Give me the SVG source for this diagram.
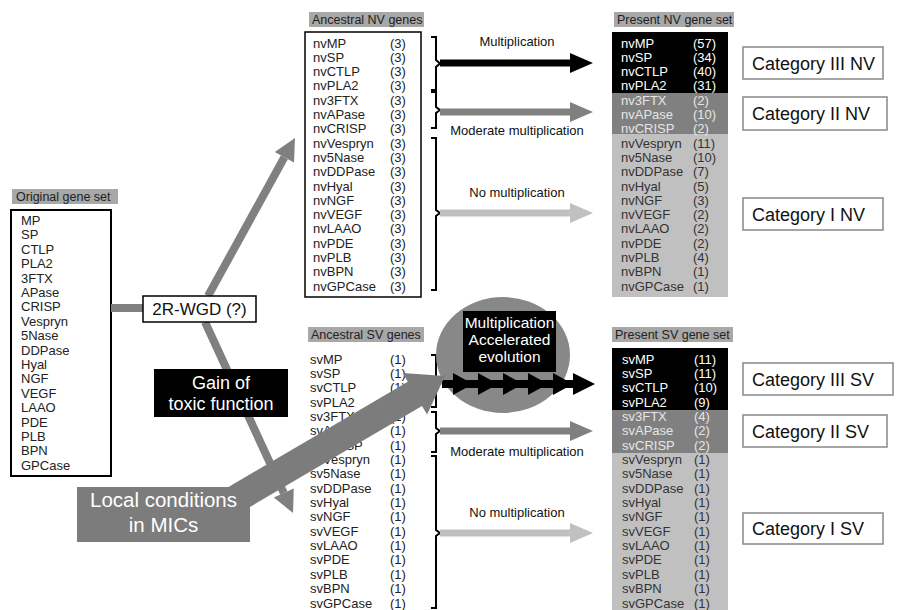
<svg xmlns="http://www.w3.org/2000/svg" width="897" height="610" viewBox="0 0 897 610">
<style>
text{font-family:"Liberation Sans",Arial,sans-serif}
.g{font-size:13px;fill:#222}
.w{font-size:13px;fill:#fff}
.lw{font-size:13px;fill:#e6e6e6}
.d{font-size:13px;fill:#333}
.lbl{font-size:12.5px;fill:#222}
.lblbg{fill:#a8a8a8}
.arrl{font-size:13px;fill:#111;text-anchor:middle}
.cat{font-size:18px;fill:#111}
.catbox{fill:#fff;stroke:#888;stroke-width:1.5}
.br{fill:none;stroke:#000;stroke-width:2}
</style>

<g id="original">
<rect class="lblbg" x="12" y="189" width="106" height="15"/>
<text class="lbl" x="16" y="201">Original gene set</text>
<rect x="11" y="210" width="100" height="266" fill="#fff" stroke="#000" stroke-width="2"/>
<g class="g">
<text x="21" y="225">MP</text><text x="21" y="239.4">SP</text><text x="21" y="253.8">CTLP</text><text x="21" y="268.2">PLA2</text><text x="21" y="282.6">3FTX</text><text x="21" y="297">APase</text><text x="21" y="311.4">CRISP</text><text x="21" y="325.8">Vespryn</text><text x="21" y="340.2">5Nase</text><text x="21" y="354.6">DDPase</text><text x="21" y="369">Hyal</text><text x="21" y="383.4">NGF</text><text x="21" y="397.8">VEGF</text><text x="21" y="412.2">LAAO</text><text x="21" y="426.6">PDE</text><text x="21" y="441">PLB</text><text x="21" y="455.4">BPN</text><text x="21" y="469.8">GPCase</text>
</g>
</g>

<g id="connectors">
<line x1="111" y1="308" x2="145" y2="308" stroke="#808080" stroke-width="8"/>
<line x1="208" y1="296" x2="284.4" y2="157.3" stroke="#808080" stroke-width="8"/>
<polygon points="295,138 294,162.6 274.8,152" fill="#808080"/>
<line x1="205" y1="322" x2="283.8" y2="493" stroke="#808080" stroke-width="8"/>
<polygon points="293,513 293.8,488.4 273.8,497.6" fill="#808080"/>
<!-- NV brackets -->
<path class="br" d="M431 37 L436 37 L436 60 L440 63.5 L436 67 L436 90 L431 90"/>
<path class="br" d="M431 92 L436 92 L436 107 L440 110 L436 113 L436 128 L431 128"/>
<path class="br" d="M431 138 L436 138 L436 210 L440 213 L436 216 L436 290 L431 290"/>
<!-- NV arrows -->
<polygon points="440,59.5 570,59.5 570,53 593,63 570,73 570,66.5 440,66.5" fill="#000"/>
<polygon points="440,108.5 570,108.5 570,102 593,112 570,122 570,115.5 440,115.5" fill="#808080"/>
<polygon points="440,209.5 570,209.5 570,203 593,213 570,223 570,216.5 440,216.5" fill="#c0c0c0"/>
<!-- SV brackets -->
<path class="br" d="M431 355 L436 355 L436 381 L440 384 L436 387 L436 407 L431 407"/>
<path class="br" d="M431 412 L436 412 L436 428 L440 431 L436 434 L436 452 L431 452"/>
<path class="br" d="M431 456 L436 456 L436 530 L440 533 L436 536 L436 608 L431 608"/>
<!-- SV arrows -->
<polygon points="440,427.5 570,427.5 570,421 593,431 570,441 570,434.5 440,434.5" fill="#808080"/>
<polygon points="440,529.5 570,529.5 570,523 593,533 570,543 570,536.5 440,536.5" fill="#c0c0c0"/>
</g>

<g id="arrow-labels">
<text class="arrl" x="517" y="46">Multiplication</text>
<text class="arrl" x="517" y="135">Moderate multiplication</text>
<text class="arrl" x="517" y="197">No multiplication</text>
<text class="arrl" x="517" y="456">Moderate multiplication</text>
<text class="arrl" x="517" y="517">No multiplication</text>
</g>

<g id="wgd">
<rect x="143" y="296" width="113" height="26" fill="#fff" stroke="#000" stroke-width="1.5"/>
<text x="199.5" y="315" font-size="17" fill="#111" text-anchor="middle">2R-WGD (?)</text>
</g>

<g id="gain">
<rect x="154" y="369" width="134" height="48" fill="#000"/>
<text x="221" y="389" font-size="18" fill="#fff" text-anchor="middle">Gain of</text>
<text x="221" y="410" font-size="18" fill="#fff" text-anchor="middle">toxic function</text>
</g>

<g id="ancestral-nv">
<rect class="lblbg" x="309" y="12" width="115" height="15"/>
<text class="lbl" x="312" y="24">Ancestral NV genes</text>
<rect x="305" y="32" width="116" height="265" fill="#fff" stroke="#000" stroke-width="1.5"/>
<g class="g">
<text x="313" y="47.5">nvMP</text><text x="313" y="61.8">nvSP</text><text x="313" y="76.1">nvCTLP</text><text x="313" y="90.4">nvPLA2</text><text x="313" y="104.7">nv3FTX</text><text x="313" y="119">nvAPase</text><text x="313" y="133.3">nvCRISP</text><text x="313" y="147.6">nvVespryn</text><text x="313" y="161.9">nv5Nase</text><text x="313" y="176.2">nvDDPase</text><text x="313" y="190.5">nvHyal</text><text x="313" y="204.8">nvNGF</text><text x="313" y="219.1">nvVEGF</text><text x="313" y="233.4">nvLAAO</text><text x="313" y="247.7">nvPDE</text><text x="313" y="262">nvPLB</text><text x="313" y="276.3">nvBPN</text><text x="313" y="290.6">nvGPCase</text>
<text x="390" y="47.5">(3)</text><text x="390" y="61.8">(3)</text><text x="390" y="76.1">(3)</text><text x="390" y="90.4">(3)</text><text x="390" y="104.7">(3)</text><text x="390" y="119">(3)</text><text x="390" y="133.3">(3)</text><text x="390" y="147.6">(3)</text><text x="390" y="161.9">(3)</text><text x="390" y="176.2">(3)</text><text x="390" y="190.5">(3)</text><text x="390" y="204.8">(3)</text><text x="390" y="219.1">(3)</text><text x="390" y="233.4">(3)</text><text x="390" y="247.7">(3)</text><text x="390" y="262">(3)</text><text x="390" y="276.3">(3)</text><text x="390" y="290.6">(3)</text>
</g>
</g>

<g id="present-nv">
<rect class="lblbg" x="614" y="12" width="120" height="15"/>
<text class="lbl" x="617" y="24">Present NV gene set</text>
<rect x="612" y="32" width="116" height="61" fill="#000"/>
<rect x="612" y="93" width="116" height="41" fill="#808080"/>
<rect x="612" y="134" width="116" height="163" fill="#c0c0c0"/>
<g class="w">
<text x="621" y="47.5">nvMP</text><text x="621" y="61.8">nvSP</text><text x="621" y="76.1">nvCTLP</text><text x="621" y="90.4">nvPLA2</text>
<text x="693" y="47.5">(57)</text><text x="693" y="61.8">(34)</text><text x="693" y="76.1">(40)</text><text x="693" y="90.4">(31)</text>
</g>
<g class="lw">
<text x="621" y="104.7">nv3FTX</text><text x="621" y="119">nvAPase</text><text x="621" y="133.3">nvCRISP</text>
<text x="693" y="104.7">(2)</text><text x="693" y="119">(10)</text><text x="693" y="133.3">(2)</text>
</g>
<g class="d">
<text x="621" y="147.6">nvVespryn</text><text x="621" y="161.9">nv5Nase</text><text x="621" y="176.2">nvDDPase</text><text x="621" y="190.5">nvHyal</text><text x="621" y="204.8">nvNGF</text><text x="621" y="219.1">nvVEGF</text><text x="621" y="233.4">nvLAAO</text><text x="621" y="247.7">nvPDE</text><text x="621" y="262">nvPLB</text><text x="621" y="276.3">nvBPN</text><text x="621" y="290.6">nvGPCase</text>
<text x="693" y="147.6">(11)</text><text x="693" y="161.9">(10)</text><text x="693" y="176.2">(7)</text><text x="693" y="190.5">(5)</text><text x="693" y="204.8">(3)</text><text x="693" y="219.1">(2)</text><text x="693" y="233.4">(2)</text><text x="693" y="247.7">(2)</text><text x="693" y="262">(4)</text><text x="693" y="276.3">(1)</text><text x="693" y="290.6">(1)</text>
</g>
</g>

<g id="cat-nv">
<rect class="catbox" x="743" y="47" width="140" height="32"/><text class="cat" x="752" y="69.5">Category III NV</text>
<rect class="catbox" x="743" y="97" width="144" height="33"/><text class="cat" x="752" y="120">Category II NV</text>
<rect class="catbox" x="743" y="198" width="140" height="32"/><text class="cat" x="752" y="220.5">Category I NV</text>
</g>

<g id="ancestral-sv">
<rect class="lblbg" x="308" y="327" width="116" height="15"/>
<text class="lbl" x="311" y="339">Ancestral SV genes</text>
<g class="g">
<text x="310" y="363.5">svMP</text><text x="310" y="377.9">svSP</text><text x="310" y="392.2">svCTLP</text><text x="310" y="406.6">svPLA2</text><text x="310" y="420.9">sv3FTX</text><text x="310" y="435.3">svAPase</text><text x="310" y="449.6">svCRISP</text><text x="310" y="464">svVespryn</text><text x="310" y="478.3">sv5Nase</text><text x="310" y="492.7">svDDPase</text><text x="310" y="507">svHyal</text><text x="310" y="521.4">svNGF</text><text x="310" y="535.7">svVEGF</text><text x="310" y="550.1">svLAAO</text><text x="310" y="564.4">svPDE</text><text x="310" y="578.8">svPLB</text><text x="310" y="593.1">svBPN</text><text x="310" y="607.5">svGPCase</text>
<text x="390" y="363.5">(1)</text><text x="390" y="377.9">(1)</text><text x="390" y="392.2">(1)</text><text x="390" y="406.6">(1)</text><text x="390" y="420.9">(1)</text><text x="390" y="435.3">(1)</text><text x="390" y="449.6">(1)</text><text x="390" y="464">(1)</text><text x="390" y="478.3">(1)</text><text x="390" y="492.7">(1)</text><text x="390" y="507">(1)</text><text x="390" y="521.4">(1)</text><text x="390" y="535.7">(1)</text><text x="390" y="550.1">(1)</text><text x="390" y="564.4">(1)</text><text x="390" y="578.8">(1)</text><text x="390" y="593.1">(1)</text><text x="390" y="607.5">(1)</text>
</g>
</g>

<g id="present-sv">
<rect class="lblbg" x="612" y="327" width="121" height="15"/>
<text class="lbl" x="615" y="339">Present SV gene set</text>
<rect x="612" y="348" width="116" height="62" fill="#000"/>
<rect x="612" y="410" width="116" height="43" fill="#808080"/>
<rect x="612" y="453" width="116" height="157" fill="#c0c0c0"/>
<g class="w">
<text x="622" y="363.5">svMP</text><text x="622" y="377.9">svSP</text><text x="622" y="392.2">svCTLP</text><text x="622" y="406.6">svPLA2</text>
<text x="694" y="363.5">(11)</text><text x="694" y="377.9">(11)</text><text x="694" y="392.2">(10)</text><text x="694" y="406.6">(9)</text>
</g>
<g class="lw">
<text x="622" y="420.9">sv3FTX</text><text x="622" y="435.3">svAPase</text><text x="622" y="449.6">svCRISP</text>
<text x="694" y="420.9">(4)</text><text x="694" y="435.3">(2)</text><text x="694" y="449.6">(2)</text>
</g>
<g class="d">
<text x="622" y="464">svVespryn</text><text x="622" y="478.3">sv5Nase</text><text x="622" y="492.7">svDDPase</text><text x="622" y="507">svHyal</text><text x="622" y="521.4">svNGF</text><text x="622" y="535.7">svVEGF</text><text x="622" y="550.1">svLAAO</text><text x="622" y="564.4">svPDE</text><text x="622" y="578.8">svPLB</text><text x="622" y="593.1">svBPN</text><text x="622" y="607.5">svGPCase</text>
<text x="694" y="464">(1)</text><text x="694" y="478.3">(1)</text><text x="694" y="492.7">(1)</text><text x="694" y="507">(1)</text><text x="694" y="521.4">(1)</text><text x="694" y="535.7">(1)</text><text x="694" y="550.1">(1)</text><text x="694" y="564.4">(1)</text><text x="694" y="578.8">(1)</text><text x="694" y="593.1">(1)</text><text x="694" y="607.5">(1)</text>
</g>
</g>

<g id="cat-sv">
<rect class="catbox" x="743" y="363" width="150" height="32"/><text class="cat" x="752" y="385.5">Category III SV</text>
<rect class="catbox" x="743" y="415" width="144" height="32"/><text class="cat" x="752" y="437.5">Category II SV</text>
<rect class="catbox" x="743" y="513" width="140" height="31"/><text class="cat" x="752" y="535">Category I SV</text>
</g>

<g id="accelerated">
<ellipse cx="503" cy="355" rx="67" ry="58" fill="#888"/>
<rect x="463" y="311" width="93" height="61" fill="#000"/>
<text x="509.5" y="328" font-size="15.5" fill="#fff" text-anchor="middle">Multiplication</text>
<text x="509.5" y="345" font-size="15.5" fill="#fff" text-anchor="middle">Accelerated</text>
<text x="509.5" y="362" font-size="15.5" fill="#fff" text-anchor="middle">evolution</text>
<g id="chain-arrow" fill="#000">
<rect x="442" y="380" width="135" height="8"/>
<polygon points="453,373 473,384 453,395"/>
<polygon points="478,373 498,384 478,395"/>
<polygon points="503,373 523,384 503,395"/>
<polygon points="528,373 548,384 528,395"/>
<polygon points="553,373 573,384 553,395"/>
<polygon points="573,373 595,384 573,395"/>
</g>
</g>

<g id="local-conditions">
<polygon points="192.9,507.9 407.8,381.7 402.7,373.1 445,376 427.1,414.5 422,405.9 207.1,532.1" fill="#7c7c7c"/>
<rect x="77" y="487" width="173" height="55" fill="#7c7c7c"/>
<text x="163.5" y="507" font-size="20.5" fill="#fff" text-anchor="middle">Local conditions</text>
<text x="163.5" y="532" font-size="20.5" fill="#fff" text-anchor="middle">in MICs</text>
</g>
</svg>
